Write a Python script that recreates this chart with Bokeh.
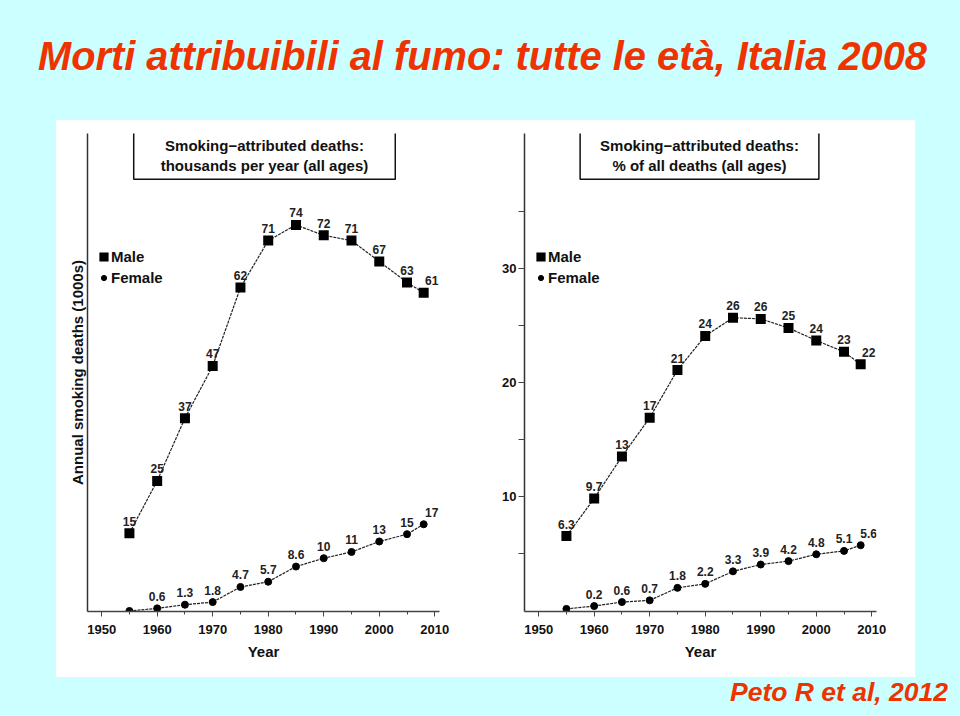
from bokeh.plotting import figure
from bokeh.models import (ColumnDataSource, Range1d, FixedTicker, SingleIntervalTicker,
                          Legend, LegendItem, Label, Div, Spacer)
from bokeh.layouts import column, row
from bokeh.core.properties import value
from bokeh.embed import file_html
from bokeh.resources import INLINE

# ---------------- data ----------------
years = [1955, 1960, 1965, 1970, 1975, 1980, 1985, 1990, 1995, 2000, 2005, 2008]

deaths_male = [15, 25, 37, 47, 62, 71, 74, 72, 71, 67, 63, 61]
deaths_male_labels = ["15", "25", "37", "47", "62", "71", "74", "72", "71", "67", "63", "61"]
deaths_female = [0.1, 0.6, 1.3, 1.8, 4.7, 5.7, 8.6, 10.2, 11.4, 13.4, 14.8, 16.7]
deaths_female_labels = ["", "0.6", "1.3", "1.8", "4.7", "5.7", "8.6", "10", "11", "13", "15", "17"]

pct_male = [6.5, 9.8, 13.5, 16.9, 21.1, 24.1, 25.7, 25.6, 24.8, 23.7, 22.7, 21.6]
pct_male_labels = ["6.3", "9.7", "13", "17", "21", "24", "26", "26", "25", "24", "23", "22"]
pct_female = [0.1, 0.35, 0.7, 0.85, 1.95, 2.3, 3.4, 4.0, 4.3, 4.9, 5.2, 5.7]
pct_female_labels = ["", "0.2", "0.6", "0.7", "1.8", "2.2", "3.3", "3.9", "4.2", "4.8", "5.1", "5.6"]

pct_ticks = [10, 20, 30]
pct_minor_ticks = [5, 15, 25, 35]

title_text = "Morti attribuibili al fumo: tutte le età, Italia 2008"
source_text = "Peto R et al, 2012"
left_box_text = "Smoking\u2212attributed deaths:\nthousands per year (all ages)"
right_box_text = "Smoking\u2212attributed deaths:\n% of all deaths (all ages)"
left_ylabel = "Annual smoking deaths (1000s)"
xlabel = "Year"

# ---------------- style ----------------
FONT = "Liberation Sans"
BG = "#ccffff"
RED = "#ee3300"
INK = "#111111"


def make_panel(width, bl, br, y_start, y_end, male, male_lab, female, female_lab,
               box_text, box_x, box_pad, side_title=None):
    kw = {}
    if side_title:
        kw = dict(title=side_title, title_location="left")
    p = figure(width=width, height=557,
               x_range=Range1d(1947.45, 2010.85), y_range=Range1d(y_start, y_end),
               output_backend="svg", toolbar_location=None,
               min_border_left=bl, min_border_right=br,
               min_border_top=13, min_border_bottom=66, **kw)
    p.background_fill_color = "white"
    p.border_fill_color = "white"
    p.outline_line_color = None
    p.grid.visible = False

    src = ColumnDataSource(dict(year=years, male=male, female=female))
    p.line("year", "male", source=src, line_color="#222222", line_width=1.2, line_dash="3 1")
    p.line("year", "female", source=src, line_color="#222222", line_width=1.2, line_dash="3 1")
    m_r = p.scatter("year", "male", source=src, marker="square", size=6,
                    fill_color="black", line_color="black", line_width=4,
                    line_join="miter")
    f_r = p.scatter("year", "female", source=src, marker="circle", size=7,
                    fill_color="black", line_color="black")

    lab_kw = dict(text_font=value(FONT), text_font_style="bold", text_font_size="12px",
                  text_color="#222222", text_align="center", text_baseline="alphabetic",
                  y_offset=-12)
    p.text(x=years[:-1], y=male[:-1], text=male_lab[:-1], **lab_kw)
    p.text(x=years[-1:], y=male[-1:], text=male_lab[-1:], x_offset=8, **lab_kw)
    p.text(x=years[:-1], y=female[:-1], text=female_lab[:-1], **lab_kw)
    p.text(x=years[-1:], y=female[-1:], text=female_lab[-1:], x_offset=8, **lab_kw)

    # x axis
    xa = p.xaxis[0]
    xa.ticker = SingleIntervalTicker(interval=10, num_minor_ticks=2)
    xa.axis_label = xlabel
    xa.axis_label_text_font = FONT
    xa.axis_label_text_font_style = "bold"
    xa.axis_label_text_font_size = "15px"
    xa.axis_label_text_color = INK
    xa.axis_label_standoff = 6
    xa.major_label_text_font = FONT
    xa.major_label_text_font_style = "bold"
    xa.major_label_text_font_size = "13px"
    xa.major_label_text_color = INK
    xa.major_label_standoff = 8
    xa.axis_line_color = "#444444"
    xa.axis_line_width = 1.5
    xa.major_tick_line_color = "#444444"
    xa.minor_tick_line_color = "#444444"
    xa.major_tick_in = 0
    xa.major_tick_out = 5
    xa.minor_tick_in = 0
    xa.minor_tick_out = 3

    ya = p.yaxis[0]
    ya.axis_line_color = "#333333"
    ya.axis_line_width = 1.5
    ya.major_label_text_font = FONT
    ya.major_label_text_font_style = "bold"
    ya.major_label_text_font_size = "13px"
    ya.major_label_text_color = INK

    # legend
    leg = Legend(items=[LegendItem(label="Male", renderers=[m_r]),
                        LegendItem(label="Female", renderers=[f_r])],
                 location=(10, 324),
                 glyph_width=13, glyph_height=15, label_height=20, label_standoff=1,
                 padding=0, margin=0, spacing=1, border_line_color=None,
                 background_fill_alpha=0, label_text_font=FONT,
                 label_text_font_style="bold", label_text_font_size="15px",
                 label_text_color=INK)
    p.add_layout(leg)

    box = Label(x=box_x, y=456, x_units="screen", y_units="screen", text=box_text,
                text_align="center", text_baseline="middle",
                text_font=FONT, text_font_style="bold", text_font_size="15px",
                text_color=INK, border_line_color="#111111", border_line_width=1.5,
                background_fill_color="white",
                padding=dict(left=box_pad, right=box_pad, top=5, bottom=5))
    p.add_layout(box)
    return p


left = make_panel(434, 31, 51, 0.0, 91.5, deaths_male, deaths_male_labels,
                  deaths_female, deaths_female_labels, left_box_text, 177, 27,
                  side_title=left_ylabel)
left.title.align = "center"
left.title.standoff = 3
left.title.text_font = FONT
left.title.text_font_style = "bold"
left.title.text_font_size = "15px"
left.title.text_color = INK
la = left.yaxis[0]
la.ticker = FixedTicker(ticks=[])
la.major_tick_out = 0
la.major_tick_in = 0
la.minor_tick_out = 0
la.minor_tick_in = 0
la.major_label_standoff = 0

right = make_panel(425, 34, 39, -0.13, 41.9, pct_male, pct_male_labels,
                   pct_female, pct_female_labels, right_box_text, 175, 20)
ra = right.yaxis[0]
ra.ticker = FixedTicker(ticks=pct_ticks, minor_ticks=pct_minor_ticks)
ra.major_tick_in = 0
ra.major_tick_out = 6
ra.minor_tick_in = 0
ra.minor_tick_out = 6
ra.major_tick_line_color = "#444444"
ra.minor_tick_line_color = "#444444"
ra.major_label_standoff = 2
right.add_layout(Label(x=-18, y=429, x_units="screen", y_units="screen", text="%",
                       text_align="center", text_baseline="middle", text_font=FONT,
                       text_font_style="bold", text_font_size="20px", text_color=INK))

title_div = Div(
    text=('<div style="padding:36px 0 0 38px; font-family:\'Liberation Sans\',Arial,sans-serif;'
          ' font-size:39.8px; font-weight:bold; font-style:italic; color:%s; line-height:40px;'
          ' white-space:nowrap;">%s</div>') % (RED, title_text),
    width=960, height=120, margin=0)
footer_div = Div(
    text=('<div style="width:948px; text-align:right; padding-top:5px;'
          ' font-family:\'Liberation Sans\',Arial,sans-serif; font-size:26.5px; font-weight:bold;'
          ' font-style:italic; color:%s; line-height:20px; white-space:nowrap;">%s</div>')
    % (RED, source_text),
    width=960, height=39, margin=0)

charts = row(left, right, spacing=0, styles={"background-color": "white"})
panel_row = row(Spacer(width=56, height=557), charts, Spacer(width=45, height=557),
                spacing=0)
page = column(title_div, panel_row, footer_div, spacing=0,
              styles={"background-color": BG})

open("out.html", "w").write(file_html(page, INLINE))
